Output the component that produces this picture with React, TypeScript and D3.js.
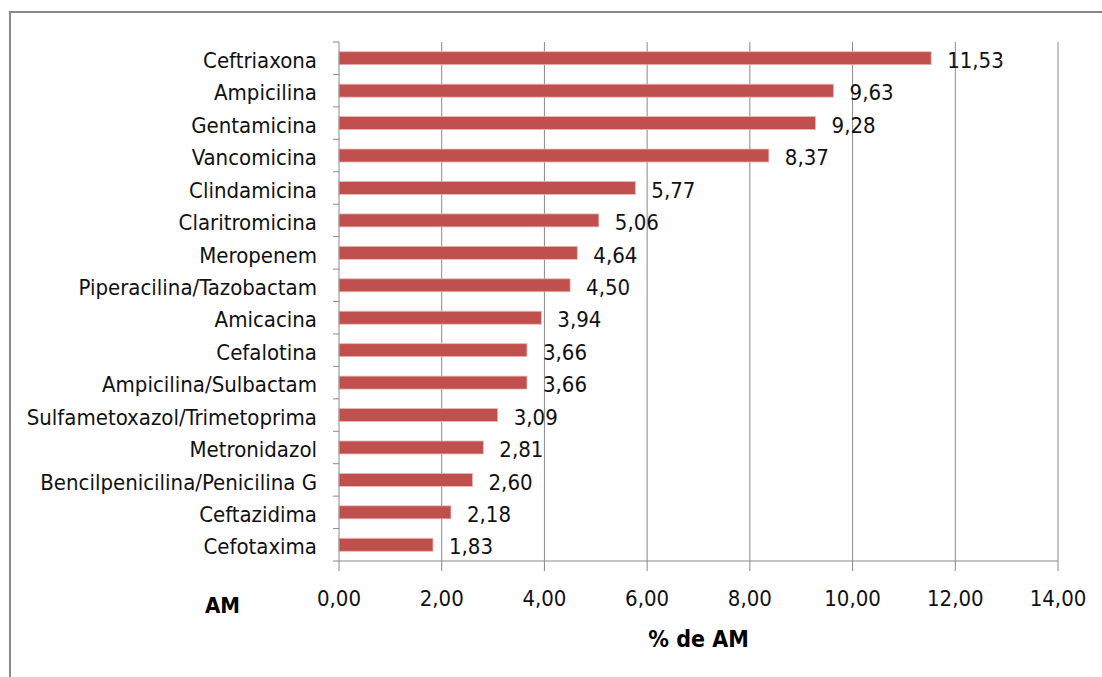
import { useEffect, useRef } from "react";
import * as d3 from "d3";

const categories = [
  "Ceftriaxona",
  "Ampicilina",
  "Gentamicina",
  "Vancomicina",
  "Clindamicina",
  "Claritromicina",
  "Meropenem",
  "Piperacilina/Tazobactam",
  "Amicacina",
  "Cefalotina",
  "Ampicilina/Sulbactam",
  "Sulfametoxazol/Trimetoprima",
  "Metronidazol",
  "Bencilpenicilina/Penicilina G",
  "Ceftazidima",
  "Cefotaxima",
];
const values = [11.53, 9.63, 9.28, 8.37, 5.77, 5.06, 4.64, 4.5, 3.94, 3.66, 3.66, 3.09, 2.81, 2.6, 2.18, 1.83];
const xTicks = [0, 2, 4, 6, 8, 10, 12, 14];
const xAxisLabel = "% de AM";
const yAxisLabel = "AM";

const FONT = "'DejaVu Sans Condensed', 'DejaVu Sans', sans-serif";
const fmt = (v: number) => v.toFixed(2).replace(".", ",");

export default function App() {
  const svgRef = useRef<SVGSVGElement>(null);

  useEffect(() => {
    if (!svgRef.current) return;
    const W = 1102;
    const H = 677;
    const margin = { top: 42, right: 44, bottom: 116, left: 339 };
    const svg = d3.select(svgRef.current);
    svg.selectAll("*").remove();
    svg.attr("width", W).attr("height", H);

    // outer frame (runs past right/bottom edge)
    svg.append("rect")
      .attr("x", 10).attr("y", 12)
      .attr("width", W + 20).attr("height", H + 20)
      .attr("fill", "white")
      .attr("stroke", "#898989")
      .attr("stroke-width", 2);

    const xScale = d3.scaleLinear().domain([0, 14]).range([margin.left, W - margin.right]);
    const yScale = d3.scaleBand<string>()
      .domain(categories)
      .range([margin.top, H - margin.bottom])
      .paddingInner(0.6)
      .paddingOuter(0.3);
    const y0 = margin.top;
    const y1 = H - margin.bottom;

    // vertical gridlines
    svg.append("g")
      .selectAll("line")
      .data(xTicks.slice(1))
      .enter()
      .append("line")
      .attr("x1", d => xScale(d)).attr("x2", d => xScale(d))
      .attr("y1", y0).attr("y2", y1)
      .attr("stroke", "#8a8a8a")
      .attr("stroke-width", 1);

    // bars
    svg.append("g")
      .selectAll("rect")
      .data(categories)
      .enter()
      .append("rect")
      .attr("x", xScale(0))
      .attr("y", d => yScale(d)!)
      .attr("width", (_, i) => xScale(values[i]) - xScale(0))
      .attr("height", yScale.bandwidth())
      .attr("fill", "#C0504D")
      .attr("stroke", "#E8B8B7")
      .attr("stroke-width", 0.8);

    // y axis line + ticks on band edges
    const step = yScale.step();
    svg.append("line")
      .attr("x1", xScale(0)).attr("x2", xScale(0))
      .attr("y1", y0).attr("y2", y1)
      .attr("stroke", "#8a8a8a");
    svg.append("g")
      .selectAll("line")
      .data(d3.range(categories.length + 1))
      .enter()
      .append("line")
      .attr("x1", xScale(0) - 6).attr("x2", xScale(0))
      .attr("y1", i => y0 + i * step).attr("y2", i => y0 + i * step)
      .attr("stroke", "#8a8a8a");

    // x axis line + ticks
    svg.append("line")
      .attr("x1", xScale(0)).attr("x2", xScale(14))
      .attr("y1", y1).attr("y2", y1)
      .attr("stroke", "#8a8a8a");
    svg.append("g")
      .selectAll("line")
      .data(xTicks)
      .enter()
      .append("line")
      .attr("x1", d => xScale(d)).attr("x2", d => xScale(d))
      .attr("y1", y1).attr("y2", y1 + 10)
      .attr("stroke", "#8a8a8a");

    // category labels
    svg.append("g")
      .selectAll("text")
      .data(categories)
      .enter()
      .append("text")
      .attr("x", xScale(0) - 22)
      .attr("y", d => yScale(d)! + yScale.bandwidth() / 2)
      .attr("dy", "0.44em")
      .attr("text-anchor", "end")
      .attr("font-family", FONT)
      .attr("font-size", 22)
      .attr("fill", "#111")
      .text(d => d);

    // value labels
    svg.append("g")
      .selectAll("text")
      .data(categories)
      .enter()
      .append("text")
      .attr("x", (_, i) => xScale(values[i]) + 16)
      .attr("y", d => yScale(d)! + yScale.bandwidth() / 2)
      .attr("dy", "0.44em")
      .attr("font-family", FONT)
      .attr("font-size", 22)
      .attr("fill", "#111")
      .text((_, i) => fmt(values[i]));

    // x tick labels
    svg.append("g")
      .selectAll("text")
      .data(xTicks)
      .enter()
      .append("text")
      .attr("x", d => xScale(d))
      .attr("y", 606)
      .attr("text-anchor", "middle")
      .attr("font-family", FONT)
      .attr("font-size", 22)
      .attr("fill", "#111")
      .text(d => fmt(d));

    svg.append("text")
      .attr("x", (xScale(0) + xScale(14)) / 2)
      .attr("y", 647)
      .attr("text-anchor", "middle")
      .attr("font-family", FONT)
      .attr("font-size", 23)
      .attr("font-weight", "bold")
      .attr("fill", "#000")
      .text(xAxisLabel);

    svg.append("text")
      .attr("x", 205)
      .attr("y", 613)
      .attr("font-family", FONT)
      .attr("font-size", 22)
      .attr("font-weight", "bold")
      .attr("fill", "#000")
      .text(yAxisLabel);
  }, []);

  return (
    <div style={{ position: "absolute", left: 0, top: 0, width: 1102, height: 677, overflow: "hidden" }}>
      <svg ref={svgRef} style={{ display: "block" }}></svg>
    </div>
  );
}
